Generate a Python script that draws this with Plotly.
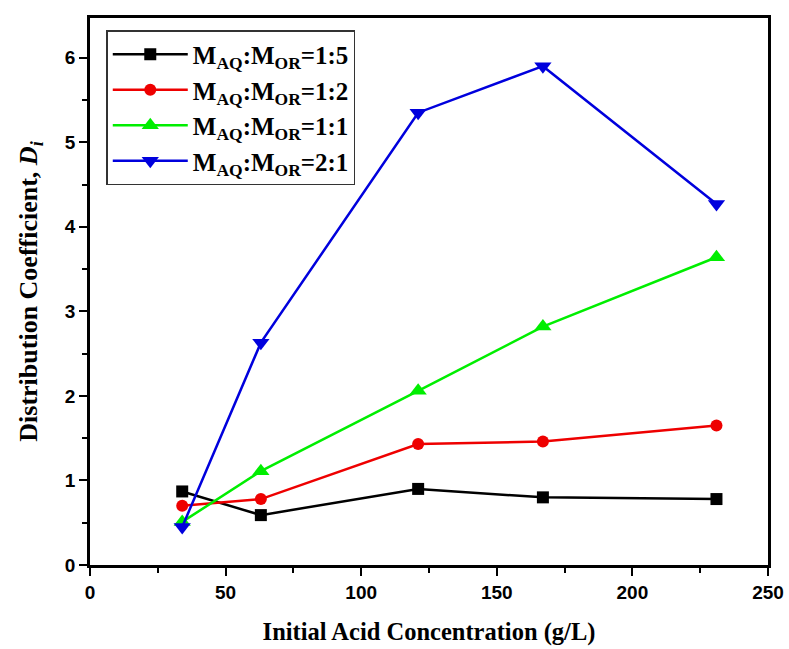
import plotly.graph_objects as go

# Initial acid concentration (g/L)
acid_conc = [34, 63, 121, 167, 231]

# Distribution coefficient D_i for each aqueous:organic ratio
d_1_5 = [0.87, 0.59, 0.90, 0.80, 0.78]
d_1_2 = [0.70, 0.78, 1.43, 1.46, 1.65]
d_1_1 = [0.51, 1.11, 2.06, 2.82, 3.64]
d_2_1 = [0.45, 2.63, 5.35, 5.90, 4.27]

series_names = [
    "M<sub>AQ</sub>:M<sub>OR</sub>=1:5",
    "M<sub>AQ</sub>:M<sub>OR</sub>=1:2",
    "M<sub>AQ</sub>:M<sub>OR</sub>=1:1",
    "M<sub>AQ</sub>:M<sub>OR</sub>=2:1",
]
series_values = [d_1_5, d_1_2, d_1_1, d_2_1]
colors = ["#000000", "#ee0000", "#00ee00", "#0000dd"]
symbols = ["square", "circle", "triangle-up", "triangle-down"]

fig = go.Figure()
for name, vals, col, sym in zip(series_names, series_values, colors, symbols):
    fig.add_trace(go.Scatter(
        x=acid_conc, y=vals, name=name, mode="lines+markers",
        line=dict(color=col, width=2.5),
        marker=dict(symbol=sym, size=15 if sym.startswith("tri") else 12, color=col),
    ))

tick_font = dict(family="Liberation Sans, Arial", size=19, color="black", weight="bold")
serif = "Liberation Serif, Times New Roman"

fig.update_layout(
    width=789, height=649,
    margin=dict(l=90, r=21, t=18, b=84, autoexpand=False),
    paper_bgcolor="white", plot_bgcolor="white",
    showlegend=True,
    legend=dict(
        x=0.024, y=0.978, xanchor="left", yanchor="top",
        bgcolor="white", bordercolor="#333333", borderwidth=1.5,
        font=dict(family=serif, size=25, color="black", weight="bold"),
        itemwidth=75, tracegroupgap=0,
    ),
    xaxis=dict(
        range=[0, 250], tickvals=[0, 50, 100, 150, 200, 250],
        ticks="outside", ticklen=8, tickwidth=2, tickcolor="black",
        minor=dict(tickvals=[25, 75, 125, 175, 225], ticks="outside", ticklen=5, tickwidth=2, tickcolor="black"),
        showline=True, linewidth=2.5, linecolor="black", mirror=True,
        showgrid=False, zeroline=False, automargin=False,
        tickfont=tick_font,
        title=dict(text="Initial Acid Concentration (g/L)",
                   font=dict(family=serif, size=24.5, color="black", weight="bold"), standoff=22),
    ),
    yaxis=dict(
        range=[0, 6.47], tickvals=[0, 1, 2, 3, 4, 5, 6],
        ticks="outside", ticklen=8, tickwidth=2, tickcolor="black",
        minor=dict(tickvals=[0.5, 1.5, 2.5, 3.5, 4.5, 5.5], ticks="outside", ticklen=5, tickwidth=2, tickcolor="black"),
        showline=True, linewidth=2.5, linecolor="black", mirror=True,
        showgrid=False, zeroline=False, automargin=False,
        tickfont=tick_font,
        title=dict(text="Distribution Coefficient, <i>D<sub>i</sub></i>",
                   font=dict(family=serif, size=26, color="black", weight="bold"), standoff=20),
    ),
)

fig.write_html("out.html")
